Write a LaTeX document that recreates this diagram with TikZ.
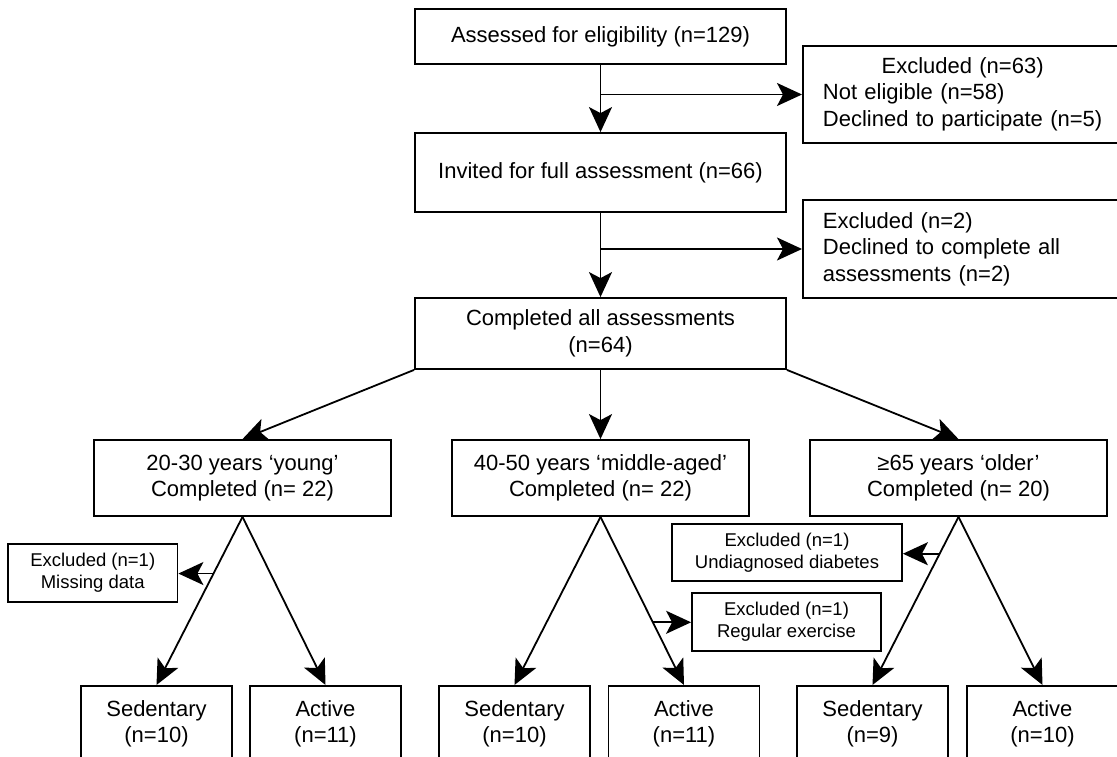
\documentclass[tikz,border=0pt]{standalone}
\usepackage{fontspec}
\setmainfont{Liberation Sans}
\usetikzlibrary{arrows.meta,calc}
\begin{document}
\begin{tikzpicture}[x=1pt,y=-1pt,
  box/.style={draw, line width=1.8pt, inner sep=0pt, font=\fontsize{22}{26.5}\selectfont, align=center},
  small/.style={box, font=\fontsize{18.5}{22}\selectfont},
  exbox/.style={box, anchor=west, inner xsep=20pt, text width=300pt, align=left},
  arr/.style={line width=1.8pt, -{Stealth[length=25pt,width=23pt,inset=6pt]}}]
\useasboundingbox (0,0) rectangle (1117,757);
\clip (0,0) rectangle (1117,757);

% main column
\node[box, minimum width=371pt, minimum height=55pt] (a1) at (600.5,36.5) {Assessed for eligibility (n=129)};
\node[box, minimum width=371pt, minimum height=79pt] (a2) at (600.5,172.5) {Invited for full assessment (n=66)};
\node[box, minimum width=371pt, minimum height=71pt] (a3) at (600.5,333.5) {Completed all assessments\\(n=64)};

% exclusions on the right
\node[exbox, minimum height=97pt] (ex1) at (802,94.5) {\begin{tabular}{@{}l@{}}\multicolumn{1}{@{}c@{}}{Excluded (n=63)}\\Not eligible (n=58)\\Declined to participate (n=5)\end{tabular}};
\node[exbox, minimum height=98pt] (ex2) at (802,249) {Excluded (n=2)\\Declined to complete all\\assessments (n=2)};

% groups
\node[box, minimum width=297pt, minimum height=76pt] (g1) at (242.5,478) {20-30 years ‘young’\\Completed (n= 22)};
\node[box, minimum width=297pt, minimum height=76pt] (g2) at (600.5,478) {40-50 years ‘middle-aged’\\Completed (n= 22)};
\node[box, minimum width=297pt, minimum height=76pt] (g3) at (958.5,478) {≥65 years ‘older’\\Completed (n= 20)};

% bottom boxes
\node[box, anchor=north, minimum width=151pt, minimum height=76pt] (s1) at (156.5,685) {Sedentary\\(n=10)};
\node[box, anchor=north, minimum width=151pt, minimum height=76pt] (s2) at (325.5,685) {Active\\(n=11)};
\node[box, anchor=north, minimum width=151pt, minimum height=76pt] (s3) at (514.5,685) {Sedentary\\(n=10)};
\node[box, anchor=north, minimum width=151pt, minimum height=76pt] (s4) at (684,685) {Active\\(n=11)};
\node[box, anchor=north, minimum width=151pt, minimum height=76pt] (s5) at (872.5,685) {Sedentary\\(n=9)};
\node[box, anchor=north, minimum width=151pt, minimum height=76pt] (s6) at (1042.5,685) {Active\\(n=10)};

% small exclusions
\node[small, minimum width=169.5pt, minimum height=58pt] (e3) at (92.75,573) {Excluded (n=1)\\Missing data};
\node[small, minimum width=189pt, minimum height=58pt] (e4) at (786.5,622) {Excluded (n=1)\\Regular exercise};
\node[small, minimum width=230pt, minimum height=57pt] (e5) at (787,552.5) {Excluded (n=1)\\Undiagnosed diabetes};

% connectors
\draw[arr] (a1.south) -- (a2.north);
\coordinate (b1) at (a1.south |- ex1.west);
\draw[arr] (b1) -- (ex1.west);
\draw[arr] (a2.south) -- (a3.north);
\coordinate (b2) at (a2.south |- ex2.west);
\draw[arr] (b2) -- (ex2.west);

\draw[arr] (a3.south west) -- (g1.north);
\draw[arr] (a3.south) -- (g2.north);
\draw[arr] (a3.south east) -- (g3.north);

\draw[arr] (g1.south) -- (s1.north);
\draw[arr] (g1.south) -- (s2.north);
\draw[arr] (g2.south) -- (s3.north);
\draw[arr] (g2.south) -- (s4.north);
\draw[arr] (g3.south) -- (s5.north);
\draw[arr] (g3.south) -- (s6.north);

\coordinate (c1) at ($(g1.south)!0.337!(s1.north)$);
\draw[arr] (c1) -- (c1 -| e3.east);
\coordinate (c2) at ($(g2.south)!0.627!(s4.north)$);
\draw[arr] (c2) -- (c2 -| e4.west);
\coordinate (c3) at ($(g3.south)!0.219!(s5.north)$);
\draw[arr] (c3) -- (c3 -| e5.east);
\end{tikzpicture}
\end{document}
